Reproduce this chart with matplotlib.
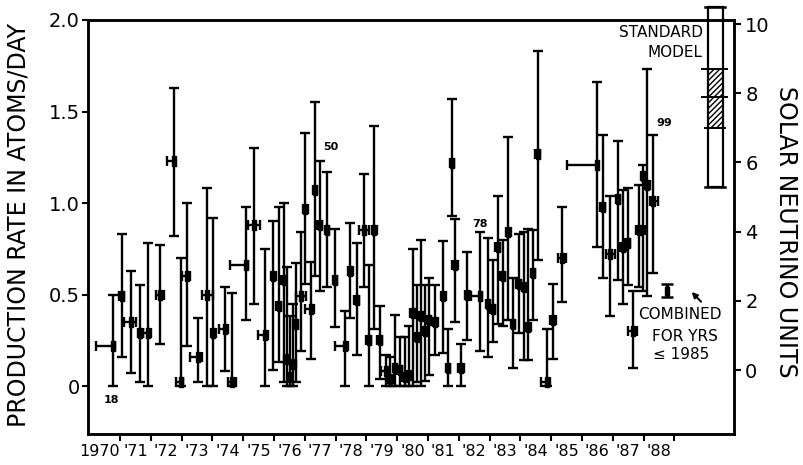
import matplotlib
matplotlib.use("Agg")
import matplotlib.pyplot as plt
from matplotlib import font_manager
from matplotlib.patches import Rectangle
import numpy as np

# Homestake runs 18 .. 99: time of run, exposure before/after (yr),
# production rate and the lower/upper ends of its error bar (atoms/day)
year = [1970.77, 1971.06, 1971.36, 1971.65, 1971.91, 1972.30, 1972.75, 1972.98, 1973.18, 1973.53,
        1973.82, 1974.02, 1974.41, 1974.64, 1975.09, 1975.35, 1975.71, 1975.97, 1976.16, 1976.32,
        1976.42, 1976.52, 1976.62, 1976.71, 1976.88, 1977.01, 1977.20, 1977.33, 1977.49, 1977.72,
        1977.98, 1978.30, 1978.47, 1978.69, 1978.92, 1979.08, 1979.25, 1979.44, 1979.64, 1979.77,
        1979.93, 1980.09, 1980.25, 1980.38, 1980.51, 1980.64, 1980.77, 1980.90, 1981.03, 1981.23,
        1981.49, 1981.65, 1981.78, 1981.88, 1982.07, 1982.27, 1982.69, 1982.95, 1983.11, 1983.27,
        1983.43, 1983.60, 1983.76, 1983.95, 1984.12, 1984.25, 1984.41, 1984.57, 1984.86, 1985.06,
        1985.35, 1986.49, 1986.68, 1986.91, 1987.17, 1987.32, 1987.49, 1987.66, 1987.86, 1987.99,
        1988.12, 1988.31]
dt_before = [0.55, 0.08, 0.23, 0.08, 0.15, 0.12, 0.23, 0.15, 0.18, 0.26,
             0.16, 0.08, 0.20, 0.12, 0.52, 0.20, 0.22, 0.08, 0.08, 0.08,
             0.08, 0.08, 0.08, 0.08, 0.16, 0.08, 0.20, 0.08, 0.08, 0.08,
             0.08, 0.32, 0.08, 0.08, 0.16, 0.08, 0.08, 0.08, 0.15, 0.08,
             0.08, 0.08, 0.08, 0.08, 0.08, 0.08, 0.08, 0.08, 0.08, 0.08,
             0.08, 0.08, 0.08, 0.10, 0.10, 0.08, 0.30, 0.08, 0.08, 0.08,
             0.08, 0.08, 0.08, 0.08, 0.08, 0.08, 0.08, 0.08, 0.20, 0.10,
             0.12, 0.97, 0.08, 0.12, 0.08, 0.10, 0.08, 0.15, 0.12, 0.08,
             0.08, 0.10]
dt_after = [0.06, 0.08, 0.16, 0.08, 0.10, 0.12, 0.05, 0.08, 0.10, 0.13,
            0.20, 0.10, 0.08, 0.12, 0.05, 0.20, 0.10, 0.08, 0.08, 0.08,
            0.08, 0.08, 0.08, 0.08, 0.16, 0.08, 0.10, 0.08, 0.08, 0.08,
            0.08, 0.10, 0.08, 0.08, 0.16, 0.08, 0.10, 0.08, 0.10, 0.08,
            0.08, 0.08, 0.08, 0.08, 0.08, 0.08, 0.08, 0.08, 0.08, 0.08,
            0.08, 0.08, 0.08, 0.10, 0.10, 0.08, 0.08, 0.08, 0.08, 0.08,
            0.08, 0.08, 0.08, 0.08, 0.08, 0.08, 0.08, 0.08, 0.10, 0.10,
            0.12, 0.03, 0.08, 0.15, 0.08, 0.10, 0.08, 0.12, 0.20, 0.08,
            0.08, 0.15]
rate = [0.22, 0.49, 0.35, 0.29, 0.29, 0.50, 1.23, 0.02, 0.60, 0.16,
        0.50, 0.29, 0.31, 0.02, 0.66, 0.88, 0.28, 0.60, 0.44, 0.58,
        0.15, 0.05, 0.12, 0.34, 0.49, 0.97, 0.42, 1.07, 0.88, 0.85,
        0.58, 0.22, 0.63, 0.47, 0.85, 0.25, 0.85, 0.25, 0.08, 0.04,
        0.10, 0.09, 0.05, 0.06, 0.40, 0.27, 0.38, 0.30, 0.36, 0.35,
        0.49, 0.10, 1.22, 0.66, 0.10, 0.50, 0.49, 0.45, 0.42, 0.76,
        0.60, 0.84, 0.34, 0.56, 0.54, 0.32, 0.62, 1.27, 0.02, 0.36,
        0.70, 1.21, 0.98, 0.72, 1.02, 0.76, 0.78, 0.30, 0.85, 1.15,
        1.10, 1.01]
rate_lo = [0.00, 0.16, 0.07, 0.02, 0.00, 0.23, 0.82, 0.00, 0.22, 0.02,
           0.00, 0.00, 0.08, 0.00, 0.36, 0.45, 0.00, 0.09, 0.13, 0.02,
           0.00, 0.00, 0.00, 0.02, 0.19, 0.56, 0.15, 0.60, 0.52, 0.54,
           0.32, 0.00, 0.37, 0.17, 0.54, 0.00, 0.31, 0.04, 0.00, 0.00,
           0.00, 0.00, 0.00, 0.00, 0.00, 0.02, 0.00, 0.03, 0.06, 0.17,
           0.18, 0.00, 0.93, 0.35, 0.00, 0.25, 0.19, 0.16, 0.24, 0.34,
           0.33, 0.36, 0.10, 0.29, 0.14, 0.14, 0.36, 0.69, 0.00, 0.15,
           0.46, 0.76, 0.59, 0.38, 0.58, 0.45, 0.55, 0.10, 0.54, 0.52,
           0.49, 0.62]
rate_hi = [0.50, 0.83, 0.63, 0.55, 0.78, 0.77, 1.63, 0.70, 1.00, 0.37,
           1.08, 0.92, 0.54, 0.51, 0.98, 1.30, 0.75, 0.90, 0.98, 1.00,
           0.65, 0.38, 0.45, 0.67, 0.84, 1.38, 0.68, 1.55, 1.23, 1.17,
           0.86, 0.41, 0.89, 0.78, 1.16, 0.66, 1.42, 0.44, 0.17, 0.16,
           0.39, 0.27, 0.27, 0.33, 0.75, 0.55, 0.80, 0.55, 0.59, 0.55,
           0.79, 0.31, 1.57, 0.91, 0.23, 0.73, 0.84, 0.81, 0.69, 1.04,
           0.80, 1.36, 0.59, 0.83, 0.84, 0.86, 0.85, 1.83, 0.31, 0.56,
           0.98, 1.66, 1.37, 1.04, 1.34, 1.07, 1.08, 0.52, 1.10, 1.21,
           1.73, 1.37]

# run numbers written next to a few of the points
run_label = ["18", "50", "78", "99"]
run_label_idx = [0, 28, 56, 81]

# average of all runs up to 1985
comb_year, comb_rate, comb_err = 1988.76, 0.52, 0.035

# standard model prediction (SNU): total range and the hatched band
sm_center, sm_lo, sm_hi = 7.9, 5.3, 10.5
sm_band = (7.0, 8.7)

year_labels = ["1970"] + ["'%02d" % y for y in range(71, 89)]

# a narrow sans face is closer to the lettering, if there is one
names = {f.name for f in font_manager.fontManager.ttflist}
if "Liberation Sans Narrow" in names:
    FONT, big, mid, small = "Liberation Sans Narrow", 22, 16, 14
else:
    FONT, big, mid, small = "DejaVu Sans", 17, 14, 11.5
plt.rcParams["font.family"] = [FONT, "DejaVu Sans"]

fig = plt.figure(figsize=(8.04, 4.65), dpi=100)
ax = fig.add_axes([0.1095, 0.0667, 0.8035, 0.8903])

yr = np.array(year)
r = np.array(rate)
xerr = [np.array(dt_before), np.array(dt_after)]
yerr = [r - np.array(rate_lo), np.array(rate_hi) - r]
ax.errorbar(yr, r, xerr=xerr, yerr=yerr, fmt="none", ecolor="black",
            elinewidth=1.7, capsize=3.5, capthick=1.7)
bar = [(-0.45, -1), (0.45, -1), (0.45, 1), (-0.45, 1), (-0.45, -1)]
ax.plot(yr, r, linestyle="none", marker=bar, markersize=7, color="black")

# run numbers
offs = [(-0.05, -0.05, "center", "top"), (0.1, 0.05, "left", "bottom"),
        (0.0, 0.02, "center", "bottom"), (0.12, 0.04, "left", "bottom")]
for lab, i, (dx, dy, ha, va) in zip(run_label, run_label_idx, offs):
    yy = rate_lo[i] + dy if dy < 0 else rate_hi[i] + dy
    ax.text(year[i] + dx, yy, lab, fontsize=8, fontweight="bold",
            family="DejaVu Sans", ha=ha, va=va)

# combined value with its arrow and note
ax.errorbar([comb_year], [comb_rate], yerr=[comb_err], fmt="none", ecolor="black",
            elinewidth=2.5, capsize=4, capthick=1.8)
ax.plot([comb_year], [comb_rate], linestyle="none", marker=bar, markersize=6, color="black")
ax.annotate("", xy=(1989.5, 0.525), xytext=(1989.93, 0.45),
            arrowprops=dict(arrowstyle="-|>", lw=1.5, color="black", mutation_scale=8))
ax.text(1987.82, 0.39, "COMBINED", fontsize=11, family="DejaVu Sans", ha="left", va="center")
ax.text(1988.27, 0.27, "FOR YRS", fontsize=11, family="DejaVu Sans", ha="left", va="center")
ax.text(1988.31, 0.17, "\u2264 1985", fontsize=11, family="DejaVu Sans", ha="left", va="center")

ax.text(1989.93, 1.93, "STANDARD", fontsize=11, family="DejaVu Sans", ha="right", va="center")
ax.text(1989.90, 1.825, "MODEL", fontsize=11, family="DejaVu Sans", ha="right", va="center")

ax.set_xlim(1969.96, 1990.94)
ax.set_ylim(-0.262, 2.0)
ax.set_xticks(np.arange(1971, 1990))
ax.set_xticklabels([])
label_pos = [1970.35] + list(np.arange(1971.5, 1989))
ax.set_xticks(label_pos, minor=True)
ax.set_xticklabels(year_labels, minor=True, fontsize=small)
ax.tick_params(axis="x", which="major", direction="out", length=5, width=1.5)
ax.tick_params(axis="x", which="minor", length=0, pad=7)
ax.set_yticks([0, 0.5, 1.0, 1.5, 2.0])
ax.set_yticklabels(["0", "0.5", "1.0", "1.5", "2.0"], fontsize=mid)
ax.tick_params(axis="y", direction="out", length=4, width=1.5, pad=2)
for s in ax.spines.values():
    s.set_linewidth(1.8)

# right-hand scale in solar neutrino units
ax2 = ax.twinx()
ax2.set_ylim(-1.85, 10.12)
ax2.set_yticks([0, 2, 4, 6, 8, 10])
ax2.set_yticklabels(["0", "2", "4", "6", "8", "10"], fontsize=mid)
ax2.tick_params(axis="y", direction="out", length=5, width=1.5, pad=3)
for s in ax2.spines.values():
    s.set_linewidth(1.8)

x0, x1 = 1990.09, 1990.58
ax2.add_patch(Rectangle((x0, sm_lo), x1 - x0, sm_hi - sm_lo, fill=False,
                        lw=1.6, ec="black", clip_on=False))
ax2.add_patch(Rectangle((x0, sm_band[0]), x1 - x0, sm_band[1] - sm_band[0], fill=False,
                        hatch="//////", lw=0, ec="black", clip_on=False))
for yv in (sm_lo, sm_hi):
    ax2.plot([x0 - 0.1, x1 + 0.05], [yv, yv], color="black", lw=1.8, clip_on=False)
for yv, ext in ((sm_band[0], 0.1), (sm_center, 0.2), (sm_band[1], 0.2)):
    ax2.plot([x0 - ext, x1 + ext * 0.7], [yv, yv], color="black", lw=1.4, clip_on=False)

fig.text(19 / 804, 1 - 225 / 465, "PRODUCTION RATE IN ATOMS/DAY", rotation=90,
         ha="center", va="center", fontsize=big)
fig.text(786 / 804, 1 - 232 / 465, "SOLAR NEUTRINO UNITS", rotation=-90,
         ha="center", va="center", fontsize=big)

fig.savefig("out.png", dpi=100)
